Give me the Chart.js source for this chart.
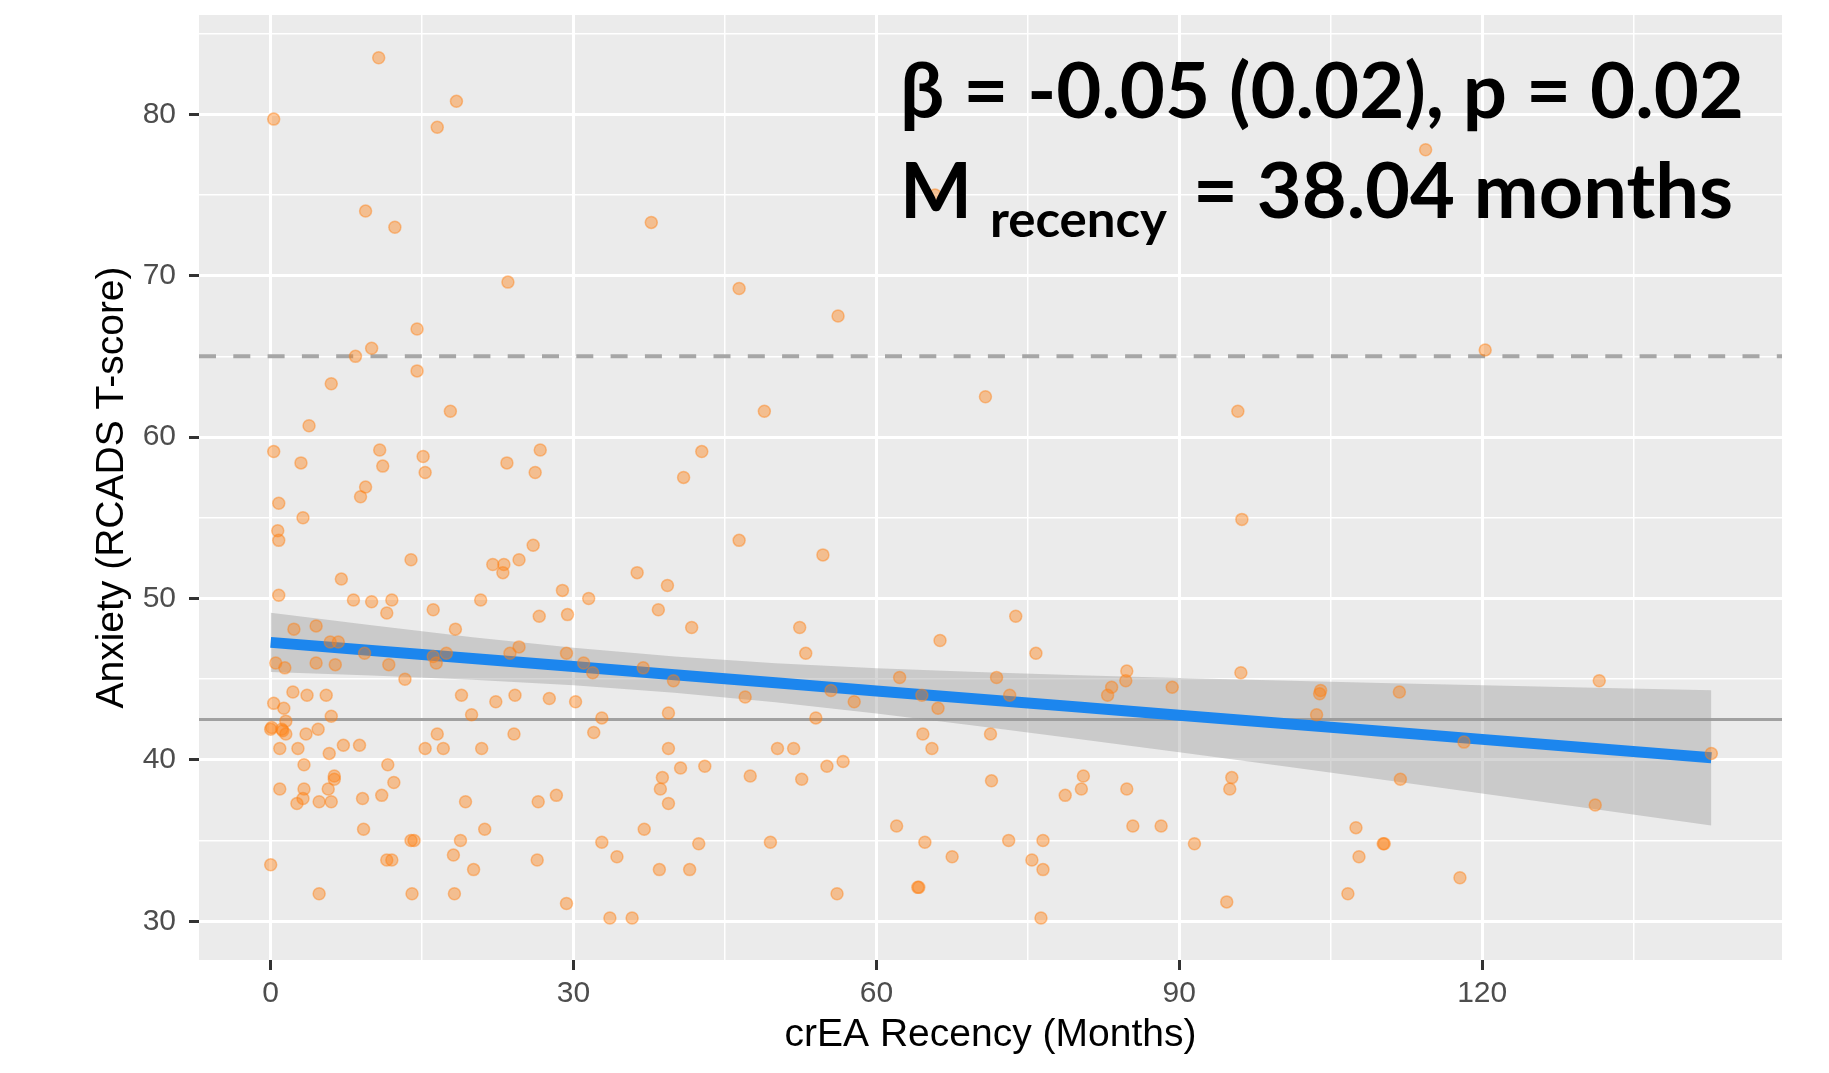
<!DOCTYPE html>
<html>
<head>
<meta charset="utf-8">
<script src="https://cdn.jsdelivr.net/npm/chart.js@4.4.1/dist/chart.umd.min.js"></script>
<style>
html, body { margin: 0; padding: 0; background: #ffffff; }
#wrap { width: 1829px; height: 1073px; position: relative; }
</style>
</head>
<body>
<div id="wrap"><canvas id="c"></canvas></div>
<script>
// ---------- data ----------
const recencyMonths = [
  10.7, 18.4, 0.3, 16.5, 9.4, 12.3, 37.7, 23.5, 14.5, 10.0, 8.4, 14.5, 6.0, 17.8, 3.8, 0.3, 10.8, 15.1, 3.0, 11.1,
  23.4, 26.7, 15.3, 26.2, 40.9, 9.4, 8.9, 0.8, 3.2, 0.7, 0.8, 26.0, 13.9, 22.0, 23.1, 23.0, 24.6, 36.3, 7.0, 39.3,
  0.8, 8.2, 10.0, 12.0, 20.8, 28.9, 31.5, 11.5, 16.1, 26.6, 29.4, 38.4, 18.3, 2.3, 4.5, 5.9, 6.7, 41.7, 9.3, 16.1,
  16.4, 17.4, 23.7, 24.6, 29.3, 31.0, 31.9, 36.9, 39.9, 0.5, 1.4, 4.5, 6.4, 11.7, 13.3, 2.2, 3.6, 5.5, 18.9, 22.3,
  24.2, 27.6, 30.2, 0.3, 1.3, 6.0, 19.9, 32.8, 39.4, 1.5, 0.0, 0.1, 1.1, 1.2, 1.5, 3.5, 4.7, 16.5, 24.1, 32.0,
  0.9, 2.7, 5.8, 7.2, 8.8, 15.3, 17.1, 20.9, 39.4, 3.3, 11.6, 6.3, 6.3, 12.2, 38.8, 40.6, 0.9, 3.3, 5.7, 38.6,
  3.2, 2.6, 4.8, 6.0, 9.1, 11.0, 19.3, 26.5, 28.3, 39.4, 9.2, 21.2, 37.0, 13.9, 14.2, 18.8, 32.8, 34.3, 18.1, 11.5,
  12.0, 20.1, 26.4, 38.5, 41.5, 0.0, 4.8, 14.0, 18.2, 29.3, 33.6, 35.8,
  46.4, 54.7, 52.4, 53.0, 73.8, 66.3, 75.8, 62.3, 71.9, 84.8, 84.7, 83.3, 82.9, 89.3, 96.1, 47.0, 55.5, 57.8, 64.5, 66.1,
  73.2, 54.0, 64.6, 71.3, 65.5, 50.2, 51.8, 43.0, 55.1, 56.7, 47.5, 52.6, 71.4, 80.5, 80.3, 78.7, 84.8, 95.2, 95.0, 62.0,
  85.4, 88.2, 42.4, 49.5, 64.8, 73.1, 76.5, 91.5, 67.5, 75.4, 76.5, 64.1, 64.2, 56.1, 94.7, 76.3,
  46.4, 56.2, 70.8, 48.9, 42.7, 95.8, 65.8, 114.4, 120.3, 96.2,
  103.9, 104.0, 103.6, 111.8, 131.6, 118.2, 142.7, 111.9, 131.2, 107.5, 110.2, 110.3, 107.8, 117.8, 106.7
];
const anxietyScores = [
  83.5, 80.8, 79.7, 79.2, 74.0, 73.0, 73.3, 69.6, 66.7, 65.5, 65.0, 64.1, 63.3, 61.6, 60.7, 59.1, 59.2, 58.8, 58.4, 58.2,
  58.4, 59.2, 57.8, 57.8, 57.5, 56.9, 56.3, 55.9, 55.0, 54.2, 53.6, 53.3, 52.4, 52.1, 52.1, 51.6, 52.4, 51.6, 51.2, 50.8,
  50.2, 49.9, 49.8, 49.9, 49.9, 50.5, 50.0, 49.1, 49.3, 48.9, 49.0, 49.3, 48.1, 48.1, 48.3, 47.3, 47.3, 48.2, 46.6, 46.4,
  46.0, 46.6, 46.6, 47.0, 46.6, 46.0, 45.4, 45.7, 44.9, 46.0, 45.7, 46.0, 45.9, 45.9, 45.0, 44.2, 44.0, 44.0, 44.0, 43.6,
  44.0, 43.8, 43.6, 43.5, 43.2, 42.7, 42.8, 42.6, 42.9, 42.4, 41.9, 42.0, 41.9, 41.8, 41.6, 41.6, 41.9, 41.6, 41.6, 41.7,
  40.7, 40.7, 40.4, 40.9, 40.9, 40.7, 40.7, 40.7, 40.7, 39.7, 39.7, 39.0, 38.8, 38.6, 38.9, 39.5, 38.2, 38.2, 38.2, 38.2,
  37.6, 37.3, 37.4, 37.4, 37.6, 37.8, 37.4, 37.4, 37.8, 37.3, 35.7, 35.7, 35.7, 35.0, 35.0, 35.0, 34.9, 34.0, 34.1, 33.8,
  33.8, 33.2, 33.8, 33.2, 33.2, 33.5, 31.7, 31.7, 31.7, 31.1, 30.2, 30.2,
  53.6, 52.7, 48.2, 46.6, 48.9, 47.4, 46.6, 45.1, 45.1, 45.5, 44.9, 44.5, 44.0, 44.5, 45.4, 43.9, 44.3, 43.6, 44.0, 43.2,
  44.0, 42.6, 41.6, 41.6, 40.7, 40.7, 40.7, 39.6, 39.6, 39.9, 39.0, 38.8, 38.7, 39.0, 38.2, 37.8, 38.2, 38.9, 38.2, 35.9,
  35.9, 35.9, 34.8, 34.9, 34.9, 35.0, 35.0, 34.8, 34.0, 33.8, 33.2, 32.1, 32.1, 31.7, 31.2, 30.2,
  69.2, 67.5, 62.5, 61.6, 59.1, 61.6, 75.0, 77.8, 65.4, 54.9,
  44.1, 44.3, 42.8, 44.2, 44.9, 41.1, 40.4, 38.8, 37.2, 35.8, 34.8, 34.8, 34.0, 32.7, 31.7
];
// fitted line and its confidence band, read at these months
const fitMonths  = [0, 10, 20, 30, 40, 50, 60, 70, 80, 90, 100, 110, 120, 130, 142.7];
const fitAnxiety = [47.28, 46.78, 46.28, 45.78, 45.28, 44.78, 44.27, 43.77, 43.27, 42.77, 42.27, 41.77, 41.27, 40.77, 40.13];
const ciUpper    = [49.12, 48.34, 47.60, 46.94, 46.40, 45.99, 45.67, 45.44, 45.24, 45.07, 44.91, 44.76, 44.62, 44.49, 44.32];
const ciLower    = [45.44, 45.22, 44.96, 44.62, 44.16, 43.57, 42.87, 42.10, 41.30, 40.47, 39.63, 38.78, 37.92, 37.05, 35.94];
// axes
const xTickValues = [0, 15, 30, 45, 60, 75, 90, 105, 120, 135];
const xTickLabels = [0, 30, 60, 90, 120];
const yTickValues = [30, 35, 40, 45, 50, 55, 60, 65, 70, 75, 80, 85];
const yTickLabels = [30, 40, 50, 60, 70, 80];
const xLimits = [-7.1, 149.7];
const yLimits = [27.6, 86.15];
// reference lines
const clinicalCutoff = 65;
const sampleMeanLine = 42.5;
// annotation text
const statsLine = 'β = -0.05 (0.02), p = 0.02';
const meanLabel = 'M';
const meanSub = 'recency';
const meanValue = '= 38.04 months';
const xTitle = 'crEA Recency (Months)';
const yTitle = 'Anxiety (RCADS T-score)';

// ---------- rendering ----------
const AXIS_FONT = '"Liberation Sans", Arial, Helvetica, sans-serif';
const NOTE_FONT = 'Lato, "Open Sans", "DejaVu Sans", sans-serif';

const panelBackground = {
  id: 'panelBackground',
  beforeDraw(chart) {
    const {ctx, chartArea: a} = chart;
    ctx.save();
    ctx.fillStyle = '#EBEBEB';
    ctx.fillRect(a.left, a.top, a.right - a.left, a.bottom - a.top);
    ctx.restore();
  }
};

const referenceLines = {
  id: 'referenceLines',
  beforeDatasetsDraw(chart) {
    const {ctx, chartArea: a, scales} = chart;
    ctx.save();
    ctx.strokeStyle = '#A6A6A6';
    ctx.lineWidth = 4;
    ctx.setLineDash([17, 17.3]);
    let yp = scales.y.getPixelForValue(clinicalCutoff);
    ctx.beginPath(); ctx.moveTo(a.left, yp); ctx.lineTo(a.right, yp); ctx.stroke();
    ctx.setLineDash([]);
    ctx.strokeStyle = '#A0A0A0';
    ctx.lineWidth = 3;
    yp = scales.y.getPixelForValue(sampleMeanLine);
    ctx.beginPath(); ctx.moveTo(a.left, yp); ctx.lineTo(a.right, yp); ctx.stroke();
    ctx.restore();
  }
};

function fitText(ctx, text, x, y, size, width) {
  ctx.save();
  ctx.font = 'bold ' + size + 'px ' + NOTE_FONT;
  const w = ctx.measureText(text).width;
  ctx.translate(x, y);
  ctx.scale(width / w, 1);
  ctx.textAlign = 'left';
  ctx.textBaseline = 'alphabetic';
  ctx.fillStyle = '#000000';
  ctx.fillText(text, 0, 0);
  ctx.restore();
}

const statsAnnotation = {
  id: 'statsAnnotation',
  afterDatasetsDraw(chart) {
    const ctx = chart.ctx;
    fitText(ctx, statsLine, 900, 118, 76, 844);
    fitText(ctx, meanLabel, 900, 218, 76, 72);
    fitText(ctx, meanSub, 990, 237, 50, 177);
    fitText(ctx, meanValue, 1193, 218, 76, 540);
  }
};

const pointData = recencyMonths.map((x, i) => ({x: x, y: anxietyScores[i]}));
const fitData = fitMonths.map((x, i) => ({x: x, y: fitAnxiety[i]}));
const lowerData = fitMonths.map((x, i) => ({x: x, y: ciLower[i]}));
const upperData = fitMonths.map((x, i) => ({x: x, y: ciUpper[i]}));

const isMajorX = v => xTickLabels.includes(v);
const isMajorY = v => yTickLabels.includes(v);

new Chart(document.getElementById('c'), {
  type: 'scatter',
  data: {
    datasets: [
      {
        label: 'Participants',
        data: pointData,
        order: 0,
        pointRadius: 6,
        pointBorderWidth: 1.5,
        pointBackgroundColor: 'rgba(255,128,20,0.42)',
        pointBorderColor: 'rgba(255,128,20,0.45)',
        pointHoverRadius: 6
      },
      {
        type: 'line',
        label: 'Fit',
        data: fitData,
        order: 1,
        borderColor: '#1C86EE',
        borderWidth: 11,
        pointRadius: 0,
        tension: 0,
        fill: false,
        borderCapStyle: 'butt'
      },
      {
        type: 'line',
        label: 'CI lower',
        data: lowerData,
        order: 3,
        borderWidth: 0,
        borderColor: 'rgba(0,0,0,0)',
        pointRadius: 0,
        tension: 0,
        fill: false
      },
      {
        type: 'line',
        label: 'CI upper',
        data: upperData,
        order: 2,
        borderWidth: 0,
        borderColor: 'rgba(0,0,0,0)',
        backgroundColor: 'rgba(153,153,153,0.4)',
        pointRadius: 0,
        tension: 0,
        fill: '-1'
      }
    ]
  },
  options: {
    responsive: true,
    maintainAspectRatio: false,
    devicePixelRatio: 1,
    animation: false,
    events: [],
    layout: { padding: { left: 0, right: 47, top: 15, bottom: 0 } },
    plugins: {
      legend: { display: false },
      tooltip: { enabled: false },
      title: { display: false }
    },
    scales: {
      x: {
        type: 'linear',
        min: xLimits[0],
        max: xLimits[1],
        afterBuildTicks(s) { s.ticks = xTickValues.map(v => ({value: v})); },
        afterFit(s) { s.height = 113; s.paddingLeft = 0; s.paddingRight = 0; },
        ticks: {
          autoSkip: false,
          maxRotation: 0,
          minRotation: 0,
          padding: 6,
          color: '#4D4D4D',
          font: { family: AXIS_FONT, size: 30 },
          callback: v => isMajorX(v) ? String(v) : ''
        },
        grid: {
          color: '#FFFFFF',
          lineWidth: c => isMajorX(c.tick.value) ? 3 : 1.5,
          drawTicks: true,
          tickLength: 10,
          tickWidth: 3,
          tickColor: c => isMajorX(c.tick.value) ? '#333333' : 'rgba(0,0,0,0)'
        },
        border: { display: false },
        title: {
          display: true,
          text: xTitle,
          color: '#000000',
          font: { family: AXIS_FONT, size: 39 },
          padding: { top: 0, bottom: 14.6 }
        }
      },
      y: {
        type: 'linear',
        min: yLimits[0],
        max: yLimits[1],
        afterBuildTicks(s) { s.ticks = yTickValues.map(v => ({value: v})); },
        afterFit(s) { s.width = 199; s.paddingTop = 0; s.paddingBottom = 0; },
        ticks: {
          autoSkip: false,
          padding: 13,
          color: '#4D4D4D',
          font: { family: AXIS_FONT, size: 30 },
          callback: v => isMajorY(v) ? String(v) : ''
        },
        grid: {
          color: '#FFFFFF',
          lineWidth: c => isMajorY(c.tick.value) ? 3 : 1.5,
          drawTicks: true,
          tickLength: 10,
          tickWidth: 3,
          tickColor: c => isMajorY(c.tick.value) ? '#333333' : 'rgba(0,0,0,0)'
        },
        border: { display: false },
        title: {
          display: true,
          text: yTitle,
          color: '#000000',
          font: { family: AXIS_FONT, size: 39 },
          padding: { top: 88.6, bottom: 0 }
        }
      }
    }
  },
  plugins: [panelBackground, referenceLines, statsAnnotation]
});
</script>
</body>
</html>
